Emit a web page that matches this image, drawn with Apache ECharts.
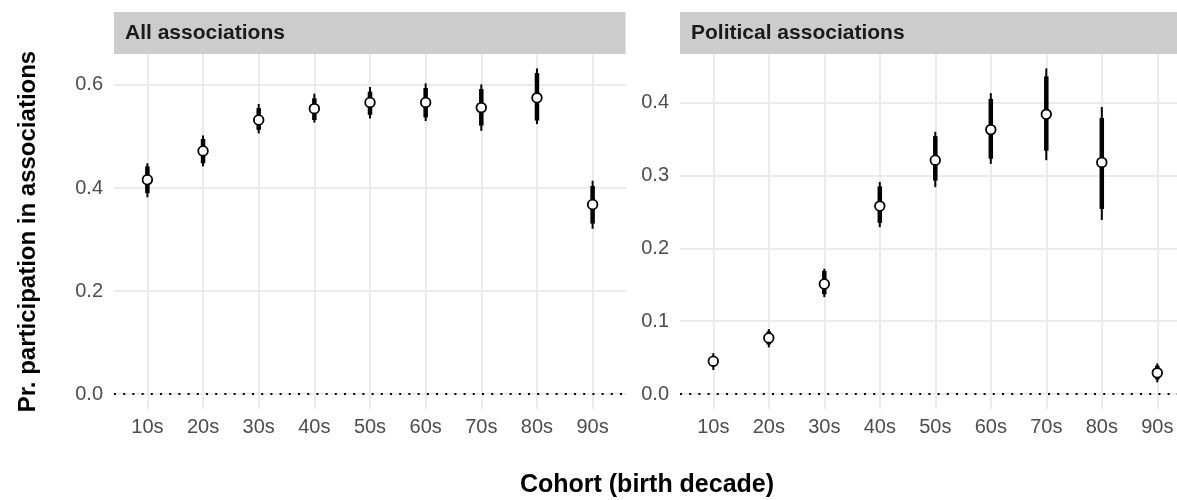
<!DOCTYPE html>
<html>
<head>
<meta charset="utf-8">
<script src="https://cdn.jsdelivr.net/npm/echarts@6/dist/echarts.min.js"></script>
<style>
  html, body { margin: 0; padding: 0; background: #fff; }
  #chart { width: 1177px; height: 500px; }
</style>
</head>
<body>
<div id="chart"></div>
<script>
// cohortes (décennie de naissance)
const cohorts = ['10s', '20s', '30s', '40s', '50s', '60s', '70s', '80s', '90s'];

// Toutes les associations : estimation, intervalle étroit (trait épais), intervalle large (trait fin)
const allEst  = [0.416, 0.472, 0.532, 0.554, 0.566, 0.566, 0.556, 0.575, 0.368];
const allLo90 = [0.390, 0.448, 0.513, 0.532, 0.542, 0.537, 0.521, 0.531, 0.331];
const allHi90 = [0.442, 0.495, 0.555, 0.574, 0.587, 0.594, 0.592, 0.623, 0.404];
const allLo95 = [0.382, 0.442, 0.506, 0.527, 0.535, 0.530, 0.511, 0.524, 0.321];
const allHi95 = [0.448, 0.502, 0.563, 0.583, 0.596, 0.603, 0.601, 0.632, 0.414];

// Associations politiques
const polEst  = [0.045, 0.077, 0.151, 0.258, 0.321, 0.363, 0.384, 0.318, 0.029];
const polLo90 = [0.038, 0.068, 0.137, 0.235, 0.293, 0.323, 0.334, 0.254, 0.020];
const polHi90 = [0.052, 0.086, 0.169, 0.285, 0.354, 0.405, 0.436, 0.379, 0.039];
const polLo95 = [0.033, 0.064, 0.133, 0.229, 0.284, 0.316, 0.321, 0.239, 0.016];
const polHi95 = [0.056, 0.089, 0.172, 0.291, 0.360, 0.413, 0.447, 0.394, 0.042];

const allTicks = [0, 0.2, 0.4, 0.6];
const polTicks = [0, 0.1, 0.2, 0.3, 0.4];
const xPositions = cohorts.map((c, i) => i + 1);

const chart = echarts.init(document.getElementById('chart'));

const GRID_COLOR = '#ebebeb';
const LABEL_COLOR = '#4d4d4d';
const FONT = 'Liberation Sans, Arial, Helvetica, sans-serif';

function buildRows(est, lo90, hi90, lo95, hi95) {
  return est.map((e, i) => [i + 1, e, lo90[i], hi90[i], lo95[i], hi95[i]]);
}

function renderPoint(params, api) {
  const x = api.value(0);
  const pEst = api.coord([x, api.value(1)]);
  const pLo90 = api.coord([x, api.value(2)]);
  const pHi90 = api.coord([x, api.value(3)]);
  const pLo95 = api.coord([x, api.value(4)]);
  const pHi95 = api.coord([x, api.value(5)]);
  return {
    type: 'group',
    children: [
      { type: 'line', shape: { x1: pLo95[0], y1: pLo95[1], x2: pHi95[0], y2: pHi95[1] },
        style: { stroke: '#000', lineWidth: 2 } },
      { type: 'line', shape: { x1: pLo90[0], y1: pLo90[1], x2: pHi90[0], y2: pHi90[1] },
        style: { stroke: '#000', lineWidth: 4.5 } },
      { type: 'circle', shape: { cx: pEst[0], cy: pEst[1], r: 4.8 },
        style: { fill: '#fff', stroke: '#000', lineWidth: 1.8 } }
    ]
  };
}

// le panneau de droite est coupé par le bord de l'image : max plus petit
function xAxisFor(gridIndex, max) {
  return {
    type: 'value', gridIndex: gridIndex, min: 0.4, max: max,
    axisLine: { show: false },
    axisTick: { show: false, customValues: xPositions },
    axisLabel: {
      customValues: xPositions, margin: 8, color: LABEL_COLOR, fontSize: 20, fontFamily: FONT,
      formatter: v => cohorts[Math.round(v) - 1]
    },
    splitLine: { show: true, lineStyle: { color: GRID_COLOR, width: 2 } }
  };
}

function yAxisFor(gridIndex, min, max, ticks) {
  return {
    type: 'value', gridIndex: gridIndex, min: min, max: max,
    axisLine: { show: false },
    axisTick: { show: false, customValues: ticks },
    axisLabel: {
      customValues: ticks, margin: 11, color: LABEL_COLOR, fontSize: 20, fontFamily: FONT,
      formatter: v => v.toFixed(1)
    },
    splitLine: { show: true, lineStyle: { color: GRID_COLOR, width: 2 } }
  };
}

const zeroLine = {
  silent: true, symbol: 'none', label: { show: false },
  lineStyle: { color: '#000', type: [2, 7.2], width: 2, cap: 'butt' },
  data: [{ yAxis: 0 }]
};

const option = {
  animation: false,
  backgroundColor: '#fff',
  grid: [
    { left: 114, right: 551, top: 54, bottom: 91 },
    { left: 680, right: 0, top: 54, bottom: 91 }
  ],
  xAxis: [xAxisFor(0, 9.6), xAxisFor(1, 9.355)],
  yAxis: [
    Object.assign(yAxisFor(0, -0.0287, 0.66, allTicks), {
      name: 'Pr. participation in associations', nameLocation: 'middle', nameGap: 74,
      nameTextStyle: { fontSize: 24, fontWeight: 'bold', color: '#000', fontFamily: FONT }
    }),
    yAxisFor(1, -0.0206, 0.4668, polTicks)
  ],
  graphic: [
    { type: 'rect', shape: { x: 114, y: 12, width: 511.6, height: 42 }, style: { fill: '#cccccc' }, silent: true },
    { type: 'text', x: 125, y: 33, style: { text: 'All associations', font: 'bold 21px ' + FONT, fill: '#1a1a1a', verticalAlign: 'middle' } },
    { type: 'rect', shape: { x: 680, y: 12, width: 520, height: 42 }, style: { fill: '#cccccc' }, silent: true },
    { type: 'text', x: 691, y: 33, style: { text: 'Political associations', font: 'bold 21px ' + FONT, fill: '#1a1a1a', verticalAlign: 'middle' } },
    { type: 'text', x: 647, y: 485, style: { text: 'Cohort (birth decade)', font: 'bold 25px ' + FONT, fill: '#000', align: 'center', verticalAlign: 'middle' } }
  ],
  series: [
    {
      name: 'All associations', type: 'custom', xAxisIndex: 0, yAxisIndex: 0,
      renderItem: renderPoint, data: buildRows(allEst, allLo90, allHi90, allLo95, allHi95),
      encode: { x: 0, y: [1, 2, 3, 4, 5] }, markLine: zeroLine, z: 3
    },
    {
      name: 'Political associations', type: 'custom', xAxisIndex: 1, yAxisIndex: 1,
      renderItem: renderPoint, data: buildRows(polEst, polLo90, polHi90, polLo95, polHi95),
      encode: { x: 0, y: [1, 2, 3, 4, 5] }, markLine: zeroLine, z: 3
    }
  ]
};

chart.setOption(option);
</script>
</body>
</html>
